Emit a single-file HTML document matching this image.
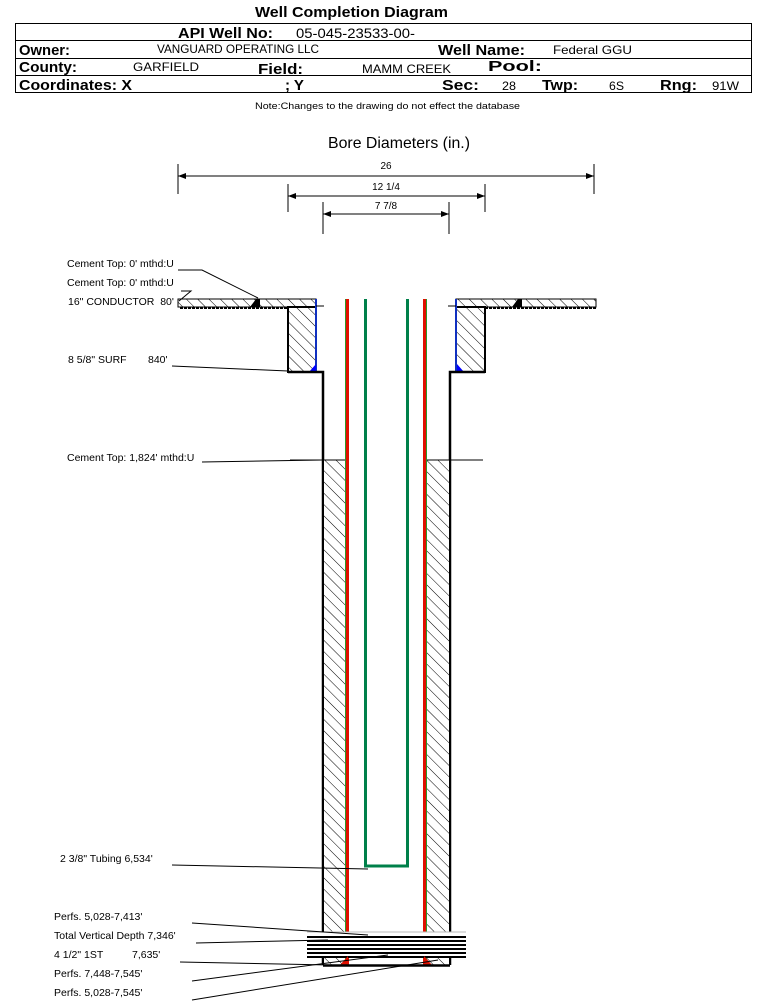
<!DOCTYPE html>
<html><head><meta charset="utf-8"><style>
body{margin:0;background:#fff;width:759px;height:1001px;overflow:hidden;font-family:"Liberation Sans",sans-serif}
svg{display:block}
.b{font-weight:bold;font-size:15px}
.n{font-size:12px}
</style></head><body>
<svg width="759" height="1001" viewBox="0 0 759 1001" xmlns="http://www.w3.org/2000/svg" font-family="Liberation Sans, sans-serif">
<defs>
<pattern id="h" patternUnits="userSpaceOnUse" width="8" height="8" patternTransform="rotate(-45)">
<rect width="8" height="8" fill="#fff"/><line x1="0" y1="0" x2="0" y2="8" stroke="#000" stroke-width="1"/>
</pattern>
</defs>
<text x="255" y="17" class="b" textLength="193" lengthAdjust="spacingAndGlyphs">Well Completion Diagram</text>
<rect x="15.5" y="23.5" width="736" height="69" fill="none" stroke="#000"/>
<line x1="15" y1="40.5" x2="752" y2="40.5" stroke="#000"/>
<line x1="15" y1="58.5" x2="752" y2="58.5" stroke="#000"/>
<line x1="15" y1="75.5" x2="752" y2="75.5" stroke="#000"/>
<text x="178" y="38" class="b" textLength="95" lengthAdjust="spacingAndGlyphs">API Well No:</text>
<text x="296" y="38" font-size="14" textLength="119" lengthAdjust="spacingAndGlyphs">05-045-23533-00-</text>
<text x="19" y="55" class="b" textLength="51" lengthAdjust="spacingAndGlyphs">Owner:</text>
<text x="157" y="53" class="n" textLength="162" lengthAdjust="spacingAndGlyphs">VANGUARD OPERATING LLC</text>
<text x="438" y="55" class="b" textLength="87" lengthAdjust="spacingAndGlyphs">Well Name:</text>
<text x="553" y="54" class="n" textLength="79" lengthAdjust="spacingAndGlyphs">Federal GGU</text>
<text x="19" y="72" class="b" textLength="58" lengthAdjust="spacingAndGlyphs">County:</text>
<text x="133" y="71" class="n" textLength="66" lengthAdjust="spacingAndGlyphs">GARFIELD</text>
<text x="258" y="74" class="b" textLength="45" lengthAdjust="spacingAndGlyphs">Field:</text>
<text x="362" y="73" class="n" textLength="89" lengthAdjust="spacingAndGlyphs">MAMM CREEK</text>
<text x="488" y="71" class="b" textLength="54" lengthAdjust="spacingAndGlyphs">Pool:</text>
<text x="19" y="90" class="b" textLength="113" lengthAdjust="spacingAndGlyphs">Coordinates: X</text>
<text x="285" y="90" class="b" textLength="19" lengthAdjust="spacingAndGlyphs">; Y</text>
<text x="442" y="90" class="b" textLength="37" lengthAdjust="spacingAndGlyphs">Sec:</text>
<text x="502" y="90" class="n" textLength="14" lengthAdjust="spacingAndGlyphs">28</text>
<text x="542" y="90" class="b" textLength="36" lengthAdjust="spacingAndGlyphs">Twp:</text>
<text x="609" y="90" class="n" textLength="15" lengthAdjust="spacingAndGlyphs">6S</text>
<text x="660" y="90" class="b" textLength="37" lengthAdjust="spacingAndGlyphs">Rng:</text>
<text x="712" y="90" class="n" textLength="27" lengthAdjust="spacingAndGlyphs">91W</text>
<text x="255" y="109" font-size="9" textLength="265" lengthAdjust="spacingAndGlyphs">Note:Changes to the drawing do not effect the database</text>

<text x="328" y="148" font-size="16" textLength="142" lengthAdjust="spacingAndGlyphs">Bore Diameters (in.)</text>
<g stroke="#000" stroke-width="1" fill="none">
<line x1="178" y1="164" x2="178" y2="194"/><line x1="594" y1="164" x2="594" y2="194"/>
<line x1="178" y1="176" x2="594" y2="176"/>
<line x1="288" y1="184" x2="288" y2="212"/><line x1="485" y1="184" x2="485" y2="212"/>
<line x1="288" y1="196" x2="485" y2="196"/>
<line x1="323" y1="202" x2="323" y2="234"/><line x1="449" y1="202" x2="449" y2="234"/>
<line x1="323" y1="214" x2="449" y2="214"/>
</g>
<g fill="#000">
<path d="M178 176l8-3v6z"/><path d="M594 176l-8-3v6z"/>
<path d="M288 196l8-3v6z"/><path d="M485 196l-8-3v6z"/>
<path d="M323 214l8-3v6z"/><path d="M449 214l-8-3v6z"/>
</g>
<text x="386" y="169" text-anchor="middle" font-size="10">26</text>
<text x="386" y="190" text-anchor="middle" font-size="10">12 1/4</text>
<text x="386" y="209" text-anchor="middle" font-size="10">7 7/8</text>

<rect x="178" y="299" width="138" height="8" fill="url(#h)" stroke="#000"/>
<rect x="456" y="299" width="140" height="8" fill="url(#h)" stroke="#000"/>
<line x1="180" y1="308" x2="316" y2="308" stroke="#000" stroke-width="2" stroke-dasharray="3,1"/>
<line x1="485" y1="308" x2="596" y2="308" stroke="#000" stroke-width="2" stroke-dasharray="3,1"/>
<path d="M250 307l6-8h4v8z" fill="#000"/><path d="M512 307l6-8h4v8z" fill="#000"/>
<rect x="288" y="307" width="28" height="65" fill="url(#h)" stroke="#000" stroke-width="2"/>
<rect x="456" y="307" width="29" height="65" fill="url(#h)" stroke="#000" stroke-width="2"/>
<line x1="316" y1="299" x2="316" y2="372" stroke="#1030c0" stroke-width="2"/>
<line x1="456" y1="299" x2="456" y2="372" stroke="#1030c0" stroke-width="2"/>
<path d="M309 372l7-8v8z" fill="#00f"/><path d="M457 364l7 8h-7z" fill="#00f"/>
<line x1="316" y1="306" x2="324" y2="306" stroke="#000"/>
<line x1="448" y1="306" x2="456" y2="306" stroke="#000"/>
<path d="M288 372H323V965" fill="none" stroke="#000" stroke-width="2.5"/>
<path d="M485 372H450V965" fill="none" stroke="#000" stroke-width="2.5"/>
<rect x="324" y="460" width="22" height="505" fill="url(#h)" stroke="none"/>
<rect x="427" y="460" width="22" height="505" fill="url(#h)" stroke="none"/>
<line x1="290" y1="460" x2="346" y2="460" stroke="#000"/>
<line x1="427" y1="460" x2="483" y2="460" stroke="#000"/>
<line x1="347.5" y1="299" x2="347.5" y2="965" stroke="#e01000" stroke-width="3"/>
<line x1="424.5" y1="299" x2="424.5" y2="965" stroke="#e01000" stroke-width="3"/>
<line x1="345.5" y1="299" x2="345.5" y2="965" stroke="#2a9a2a" stroke-width="1"/>
<line x1="426.5" y1="299" x2="426.5" y2="965" stroke="#2a9a2a" stroke-width="1"/>
<path d="M365.5 299V866H407.5V299" fill="none" stroke="#00804a" stroke-width="3"/>
<rect x="305" y="932" width="161" height="26" fill="#fff"/>
<g stroke="#000" stroke-width="2">
<line x1="307" y1="937" x2="466" y2="937"/><line x1="307" y1="941" x2="466" y2="941"/>
<line x1="307" y1="945" x2="466" y2="945"/><line x1="307" y1="949" x2="466" y2="949"/>
<line x1="307" y1="953" x2="466" y2="953"/><line x1="307" y1="957" x2="466" y2="957"/>
</g>
<line x1="307" y1="932" x2="466" y2="932" stroke="#bbb"/>
<path d="M340 965l8-9v9z" fill="#e01000"/><path d="M424 956l8 9h-8z" fill="#e01000"/>
<line x1="323" y1="965.5" x2="450" y2="965.5" stroke="#000" stroke-width="2.5"/>

<g font-size="10.5">
<text x="67" y="267">Cement Top: 0' mthd:U</text>
<text x="67" y="286">Cement Top: 0' mthd:U</text>
<text x="68" y="305" xml:space="preserve">16" CONDUCTOR  80'</text>
<text x="68" y="363">8 5/8" SURF</text><text x="148" y="363">840'</text>
<text x="67" y="461">Cement Top: 1,824' mthd:U</text>
<text x="60" y="862">2 3/8" Tubing 6,534'</text>
<text x="54" y="920">Perfs. 5,028-7,413'</text>
<text x="54" y="939">Total Vertical Depth 7,346'</text>
<text x="54" y="958">4 1/2" 1ST</text><text x="132" y="958">7,635'</text>
<text x="54" y="977">Perfs. 7,448-7,545'</text>
<text x="54" y="996">Perfs. 5,028-7,545'</text>
</g>
<g stroke="#000" stroke-width="1" fill="none">
<path d="M178 270h24l56 28"/>
<path d="M179 301l12-10h-10"/>
<path d="M172 366l116 5"/>
<path d="M202 462l120-2"/>
<path d="M172 865l196 4"/>
<path d="M192 923l176 12"/>
<path d="M196 943l132-3"/>
<path d="M180 962l150 3"/>
<path d="M192 981l196-26"/>
<path d="M192 1000l246-40"/>
</g>
</svg>
</body></html>
